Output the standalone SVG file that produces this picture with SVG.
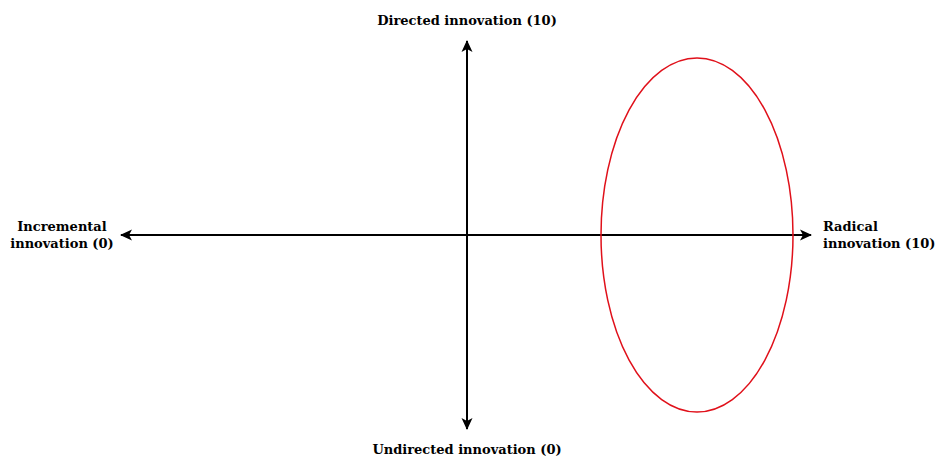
<svg xmlns="http://www.w3.org/2000/svg" width="952" height="459" viewBox="0 0 952 459">
<style>
text{font-family:"DejaVu Serif",serif;font-weight:bold;font-size:13px;fill:#000}
.ax{stroke:#000;stroke-width:2;fill:none}
</style>
<defs>
<marker id="ah" viewBox="0 0 12 12" refX="11" refY="6" markerWidth="14" markerHeight="12" markerUnits="userSpaceOnUse" orient="auto-start-reverse">
<path d="M0,0.5 L12,6 L0,11.5 L3,6 Z" fill="#000"/>
</marker>
</defs>
<rect width="952" height="459" fill="#fff"/>
<g id="connectors">
<line class="ax" x1="467" y1="429" x2="467" y2="41" marker-end="url(#ah)" marker-start="url(#ah)"/>
<line class="ax" x1="121" y1="235" x2="811" y2="235" marker-end="url(#ah)" marker-start="url(#ah)"/>
</g>
<g id="ellipse">
<ellipse cx="697" cy="235" rx="96" ry="177" fill="none" stroke="#e0101a" stroke-width="1.5"/>
</g>
<g id="top"><text x="467" y="25" text-anchor="middle">Directed innovation (10)</text></g>
<g id="bottom"><text x="467" y="454" text-anchor="middle">Undirected innovation (0)</text></g>
<g id="left"><text x="62" y="231" text-anchor="middle">Incremental</text><text x="62" y="248" text-anchor="middle">innovation (0)</text></g>
<g id="right"><text x="823" y="231">Radical</text><text x="823" y="248">innovation (10)</text></g>
</svg>
